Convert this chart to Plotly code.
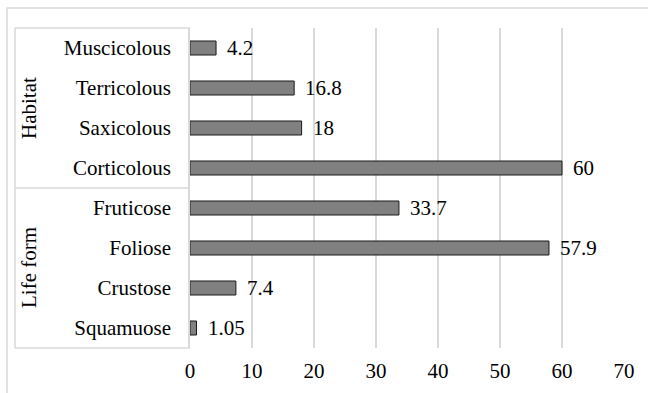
import plotly.graph_objects as go

categories = ["Muscicolous", "Terricolous", "Saxicolous", "Corticolous",
              "Fruticose", "Foliose", "Crustose", "Squamuose"]
values = [4.2, 16.8, 18, 60, 33.7, 57.9, 7.4, 1.05]
value_labels = ["4.2", "16.8", "18", "60", "33.7", "57.9", "7.4", "1.05"]
groups = ["Habitat", "Life form"]
x_ticks = [0, 10, 20, 30, 40, 50, 60, 70]

FONT = "Times New Roman, Liberation Serif, DejaVu Serif, serif"
FS = 21
GRID = "#d9d9d9"

fig = go.Figure()
fig.add_trace(go.Bar(
    x=values, y=categories, orientation="h",
    marker=dict(color="#808080", line=dict(color="#1a1a1a", width=1)),
    width=0.35, hoverinfo="skip",
))

for c, v, t in zip(categories, values, value_labels):
    fig.add_annotation(x=v, y=c, text=t, xanchor="left", yanchor="middle",
                       xshift=9, showarrow=False,
                       font=dict(family=FONT, size=FS, color="#000"))

W, H = 648, 393
L, R, T, B = 190, 24, 28, 45
pw, ph = W - L - R, H - T - B

def px(x):
    return (x - L) / pw

def py(y):
    return (H - B - y) / ph

shapes = []
# outer chart border
shapes.append(dict(type="rect", xref="paper", yref="paper",
                   x0=px(7), x1=px(660), y0=py(8), y1=py(410),
                   line=dict(color=GRID, width=1.5), layer="below"))
# label table lines
for yy in [0, 0.5, 1]:
    shapes.append(dict(type="line", xref="paper", yref="paper",
                       x0=px(15), x1=0, y0=yy, y1=yy,
                       line=dict(color=GRID, width=1.5)))
shapes.append(dict(type="line", xref="paper", yref="paper",
                   x0=px(15), x1=px(15), y0=0, y1=1,
                   line=dict(color=GRID, width=1.5)))

for i, g in enumerate(groups):
    fig.add_annotation(xref="paper", yref="paper", x=px(29),
                       y=0.75 - 0.5 * i, text=g, textangle=-90,
                       showarrow=False, xanchor="center", yanchor="middle",
                       font=dict(family=FONT, size=FS, color="#000"))

fig.update_layout(
    width=W, height=H,
    margin=dict(l=L, r=R, t=T, b=B, pad=0, autoexpand=False),
    paper_bgcolor="white", plot_bgcolor="white",
    showlegend=False, shapes=shapes,
    font=dict(family=FONT, size=FS, color="#000"),
    bargap=0.65,
)
fig.update_xaxes(range=[0, 70], tickvals=x_ticks, showgrid=True,
                 gridcolor=GRID, gridwidth=1.5, zeroline=False,
                 showline=False, ticks="outside", ticklen=0,
                 ticklabelstandoff=4, fixedrange=True, automargin=False)
fig.update_yaxes(autorange="reversed", showgrid=False, showline=True,
                 linecolor=GRID, linewidth=1.5, ticks="outside", ticklen=0,
                 ticklabelstandoff=13, fixedrange=True, automargin=False)

fig.write_html("out.html")
